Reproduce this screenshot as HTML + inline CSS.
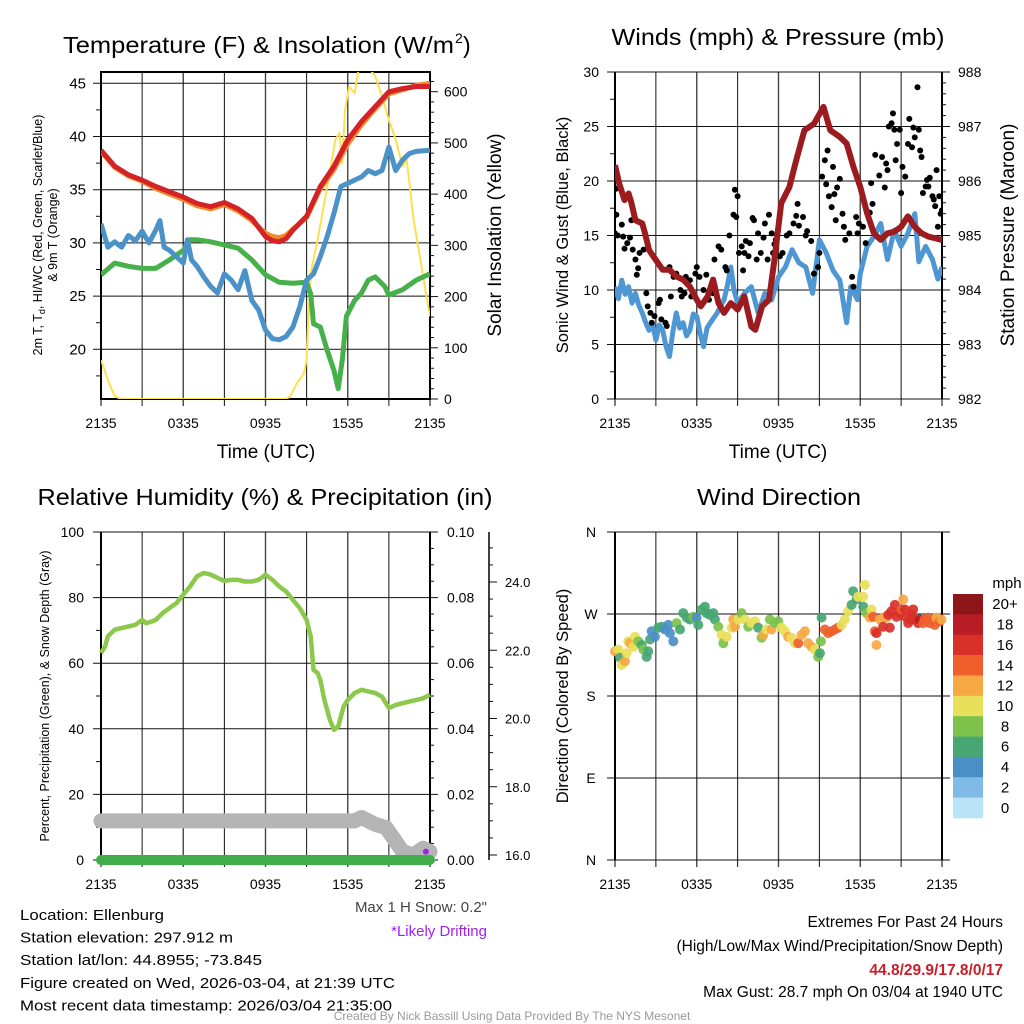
<!DOCTYPE html>
<html><head><meta charset="utf-8">
<style>
html,body{margin:0;padding:0;background:#fff;}
svg{display:block;font-family:"Liberation Sans",Arial,sans-serif;}
</style></head>
<body>
<svg id="c" width="1024" height="1024" viewBox="0 0 1024 1024" xmlns="http://www.w3.org/2000/svg">
<rect width="1024" height="1024" fill="#fff"/>
</svg>
<script>
// ---------- DATA ----------
const timeLabels = ["2135","0335","0935","1535","2135"];
// Panel 1: temperature (F) vs hour
const tempT = [0,1,2,3,4,5,6,7,8,9,10,11,12,12.5,13,13.5,14,15,16,17,18,19,20,21,22,23,24];
const tempRed = [38.7,37.2,36.4,35.9,35.3,34.8,34.3,33.7,33.4,33.8,33.2,32.3,30.6,30.2,30.1,30.4,31.2,32.5,35.3,37.2,39.7,41.4,42.8,44.2,44.5,44.7,44.7];
const tempOrange = [38.6,37.1,36.3,35.8,35.1,34.6,34.1,33.5,33.2,33.6,33.0,32.1,30.9,30.6,30.5,30.7,31.3,32.4,35.1,36.9,39.3,41.1,42.6,44.0,44.4,44.8,45.0];
const dewT = [0,0.5,1,1.5,2,2.5,3,3.5,4,4.3,4.6,5,5.5,6,6.3,6.6,7,7.5,8,8.5,9,9.5,10,10.5,11,11.5,12,12.5,13,13.5,14,14.5,15,15.5,16,16.5,17,17.5,18,18.5,19,19.5,20,20.5,21,21.5,22,22.5,23,24];
const dewBlue = [31.8,29.6,30.1,29.6,30.7,30.2,31.1,30.0,31.2,32.1,29.6,29.3,28.7,28.1,30.3,28.4,27.8,26.8,25.9,25.3,27.1,26.5,25.6,27.4,24.6,23.7,21.8,21.0,20.9,21.2,22.1,24.0,26.5,27.1,28.7,30.6,32.8,35.3,35.6,35.9,36.2,36.8,36.5,36.8,39.0,36.8,37.8,38.4,38.6,38.7];
const grnT = [0,1,2,3,4,5,6,6.5,7,8,9,10,11,12,13,14,15,15.3,15.5,16,16.5,17,17.3,17.6,17.9,18.5,19,19.5,20,20.7,21,22,23,24];
const grnTd = [27.0,28.1,27.8,27.6,27.6,28.4,29.3,30.3,30.3,30.1,29.8,29.5,28.4,27.0,26.3,26.2,26.3,25.2,22.4,22.1,19.9,18.0,16.3,19.0,23.1,24.6,25.3,26.5,26.8,25.9,25.1,25.6,26.5,27.1];
const solT = [0,0.5,1,1.5,13.5,13.8,14.3,14.8,15,15.1,15.3,15.8,16.5,17.1,17.4,17.6,17.8,18.1,18.5,18.8,19.5,20,20.5,21,21.5,22,22.3,22.8,23.3,23.7,24];
const solW = [76,37,5,0,0,5,31,50,76,141,246,311,415,506,520,460,565,610,597,645,648,630,591,545,506,454,467,350,272,207,161];
// Panel 2: winds / pressure
const presT = [0,0.3,0.7,1,1.2,1.5,2,2.2,2.5,3,3.5,4,4.5,5,5.5,6,6.3,6.8,7.2,7.6,8,8.5,9,9.5,10,10.3,10.8,11.3,11.7,12.2,12.8,13.3,13.9,14.6,15.3,15.8,16.5,17,17.5,18,18.5,19,19.5,20,20.5,21,21.5,22,22.5,23,24];
const presMb = [986.29,985.96,985.65,985.77,985.6,985.28,985.22,985.04,984.73,984.55,984.37,984.37,984.25,984.19,984.06,983.82,983.70,983.88,984.19,983.76,983.58,983.76,983.64,983.88,983.33,983.27,983.70,983.82,984.55,985.59,985.89,986.38,986.93,987.05,987.36,986.93,986.81,986.69,986.26,985.89,985.41,985.04,984.92,985.04,985.07,985.16,985.35,985.16,985.04,984.98,984.92];
const windT = [0,0.25,0.5,0.75,1,1.25,1.5,1.75,2,2.25,2.5,2.75,3,3.25,3.5,3.75,4,4.25,4.5,4.75,5,5.25,5.5,5.75,6,6.25,6.5,6.75,7,7.5,8,8.25,8.5,8.75,9,9.5,10,10.5,11,11.5,12,12.5,13,13.5,14,14.5,15,15.5,16,16.5,17,17.3,17.8,18,18.5,19,19.5,20,20.5,21,21.5,22,22.3,22.8,23.3,23.7,24];
const windMph = [10.3,9.2,10.9,9.6,10.3,8.8,9.7,8.6,7.9,7.0,6.3,6.9,5.4,6.8,6.3,4.8,3.9,6.2,7.9,6.5,7.0,5.8,6.3,7.8,7.6,6.0,4.8,6.5,7.0,7.9,9.1,10.4,12.1,9.9,8.8,9.7,10.3,7.9,9.7,9.1,11.2,12.1,13.7,12.5,12.1,9.7,14.6,13.4,11.8,10.9,7.0,10.3,9.1,11.5,14.0,14.9,16.1,12.8,15.5,14.0,15.2,17.0,12.6,14.0,12.8,11.0,12.1];
const gustT = [0,0.1,0.1,0.2,0.5,0.6,0.7,0.9,1.1,1.2,1.3,1.5,1.6,1.7,1.8,2.1,2.3,2.4,2.6,2.7,2.9,3.2,3.3,3.4,3.7,3.8,4.0,4.1,4.3,4.5,4.8,4.9,5.1,5.2,5.5,5.6,5.9,6.0,6.2,6.5,6.7,6.9,7.2,7.3,7.6,7.8,8.1,8.2,8.4,8.7,8.8,8.9,9.0,9.1,9.3,9.4,9.5,9.6,9.8,9.9,10.1,10.2,10.4,10.5,10.7,10.9,11.0,11.2,11.3,11.5,11.6,11.7,11.8,12.1,12.3,12.6,12.8,13.1,13.3,13.4,13.5,13.8,14.0,14.1,14.4,14.6,14.9,15.0,15.2,15.4,15.5,15.6,15.7,15.9,16.0,16.1,16.3,16.5,16.2,16.7,16.8,16.9,17.2,17.4,17.5,17.7,17.8,17.9,18.2,18.4,18.7,18.8,18.9,19.1,19.4,19.6,19.8,19.9,20.0,20.1,20.3,20.4,20.5,20.6,20.7,20.9,21.0,21.1,21.3,21.5,21.6,21.8,21.9,22.0,22.2,22.3,22.4,22.5,22.6,22.8,22.9,23.0,23.1,23.3,23.4,23.5,23.6,23.7,23.8,23.9,24.0];
const gustMph = [15.2,19.3,16.9,15.0,16.0,14.9,13.8,14.3,14.8,16.4,13.7,12.8,11.4,12.0,13.4,13.7,9.7,8.5,7.9,7.0,7.6,8.8,9.1,7.3,7.0,6.7,12.1,9.4,11.2,11.5,10.0,9.4,9.7,11.2,10.9,9.4,11.5,12.1,11.2,10.0,11.4,9.1,9.7,12.8,14.0,13.7,12.1,11.8,15.0,16.9,19.2,16.7,18.6,13.4,14.0,11.8,13.4,14.5,13.1,14.3,16.6,16.4,12.8,15.2,13.4,14.8,16.1,12.8,16.9,15.2,13.4,14.2,14.6,13.1,13.4,15.0,15.2,16.1,16.8,17.9,15.9,16.7,15.0,15.4,14.5,11.5,12.1,13.4,20.4,21.9,19.7,22.8,18.6,17.6,21.3,18.8,19.4,20.2,16.4,17.0,15.8,14.6,15.2,11.2,10.3,16.7,15.2,16.1,15.8,14.3,17.1,19.8,17.9,22.4,20.5,22.2,19.4,21.6,21.0,25.0,25.3,26.2,24.7,21.9,23.4,24.7,18.9,21.3,20.4,23.4,25.7,23.1,24.9,24.0,28.6,24.7,22.8,22.2,18.9,19.5,20.1,19.5,20.3,18.6,18.3,17.7,21.0,15.8,18.6,17.0,17.3];
// Panel 3: RH / snow
const rhT = [0,0.3,0.5,1,1.5,2,2.5,3,3.3,3.7,4,4.5,5,5.5,6,6.5,7,7.5,8,8.5,9,9.5,10,10.5,11,11.5,12,12.5,13,13.5,14,14.5,15,15.3,15.5,15.8,16,16.3,16.7,17,17.3,17.7,18,18.5,19,19.5,20,20.5,21,21.5,22,22.5,23,23.5,24];
const rhPct = [63.1,65.1,68.2,70.2,70.7,71.2,71.7,73.2,72.2,72.7,73.2,75.3,76.8,78.3,80.9,83.4,86.5,87.5,87.0,86.0,85.1,85.4,85.4,84.9,84.9,85.4,87.0,85.4,83.4,81.9,79.3,76.8,73.2,68.2,58.0,57.0,54.9,48.8,42.7,39.7,40.7,46.8,48.8,50.9,51.9,51.4,50.9,49.8,46.3,47.3,47.8,48.3,48.8,49.3,50.4];
const snowT = [0,18.5,19,20,20.8,21.5,22,22.8,23.5,24];
const snowIn = [17.0,17.0,17.1,16.9,16.8,16.4,16.1,16.0,16.2,16.1];
const precipT = [0,24];
const precipIn = [0,0];
// Panel 4: wind direction (deg) & speed (mph)
const dirT = [0,0.24,0.37,0.49,0.73,0.86,0.98,1.1,1.34,1.47,1.71,1.96,2.08,2.32,2.44,2.57,2.69,2.93,3.18,3.42,3.67,3.91,4.03,4.28,4.52,4.77,5.01,5.26,5.5,5.75,5.99,6.11,6.36,6.6,6.72,6.97,7.21,7.33,7.58,7.82,7.95,8.19,8.56,8.68,8.8,9.05,9.29,9.54,9.78,10.02,10.27,10.51,10.76,10.88,11.12,11.37,11.49,11.74,11.98,12.22,12.47,12.71,12.96,13.2,13.45,13.69,13.94,14.18,14.43,14.67,14.91,15.04,15.11,15.16,15.4,15.65,15.89,16.14,16.38,16.63,16.87,17.11,17.36,17.48,17.73,17.85,18.22,18.34,18.22,18.46,18.7,18.83,18.95,19.07,19.19,19.19,19.44,19.68,19.68,19.93,20.05,20.17,20.29,20.54,20.66,20.9,21.03,21.15,21.27,21.39,21.52,21.64,21.76,21.88,22.0,22.25,22.37,22.62,22.74,22.98,23.1,23.35,23.47,23.59,23.84,23.96];
const dirDeg = [229,231,222,214,218,227,240,238,234,245,240,236,231,223,229,242,251,245,255,256,253,258,249,240,260,253,271,266,264,267,266,258,275,278,271,269,271,264,256,247,238,245,255,264,256,264,271,264,256,260,262,255,244,247,253,264,253,260,262,255,251,245,244,238,238,247,251,238,234,231,223,227,240,266,253,249,251,253,255,258,264,273,280,295,286,289,289,302,278,271,266,275,267,251,249,236,264,266,256,266,269,255,273,280,267,271,275,286,275,266,260,264,269,275,264,260,264,260,264,266,260,264,258,266,262,264];
const dirSpd = [12,10,6,10,12,10,10,12,10,10,8,6,8,6,6,6,4,4,6,6,4,4,4,4,8,6,6,6,6,8,4,6,6,6,6,6,6,6,8,10,8,10,10,12,12,10,8,10,8,10,10,6,8,12,10,8,12,8,8,10,10,12,10,10,14,12,12,12,12,10,8,6,8,6,14,14,14,14,14,10,10,10,6,6,6,10,10,10,6,8,12,10,14,14,16,12,12,12,16,12,16,16,16,16,16,16,14,12,16,16,16,16,16,16,16,16,18,14,14,14,14,14,14,12,14,12,12];
const cbLabels = ["20+","18","16","14","12","10","8","6","4","2","0"];
const cbColors = ["#8e1518","#b81c25","#d9302a","#ee5f2b","#f6a844","#e8e05a","#7cc24b","#48a672","#4a8fc6","#7fbbe6","#b9e4f8"];

// ---------- HELPERS ----------
const svg = document.getElementById('c');
const NS = 'http://www.w3.org/2000/svg';
function mk(tag, attrs, parent){ const e=document.createElementNS(NS,tag); for(const k in attrs) e.setAttribute(k,attrs[k]); (parent||svg).appendChild(e); return e; }
function txt(s, x, y, size, anchor, extra, parent){
  const e = mk('text', Object.assign({x:x,y:y,'font-size':size,'text-anchor':anchor||'start',fill:'#000'}, extra||{}), parent);
  e.textContent = s; return e;
}
function lin(x0,x1,v0,v1){ return v => x0 + (v - v0) * (x1 - x0) / (v1 - v0); }
function pathD(xs, ys, fx, fy){ return xs.map((t,i)=>(i?'L':'M')+fx(t).toFixed(1)+','+fy(ys[i]).toFixed(1)).join(''); }

function frame(g, x0, x1, y0, y1){
  const fx = lin(x0, x1, 0, 24);
  for(let i=0;i<=8;i++){
    const x = fx(i*3);
    const l = mk('line',{x1:x,x2:x,y1:y0,y2:y1+7,stroke:i%2?'#111':'#444','stroke-width':i%2?1:1.4},g);
    
    
  }
  timeLabels.forEach((s,i)=>{
    const t = txt(s, fx(i*6), y1+29, 14, 'middle', {}, g);
    
    
  });
  return fx;
}

// ---------- PANEL 1 ----------
(function(){
  const g = mk('g',{});
  
  
  const x0=101,x1=430,y0=72,y1=399;
  const fx = frame(g,x0,x1,y0,y1);
  const fy = lin(83.3,349.3,45,20);
  const fs = lin(399,91.7,0,600);
  for(let v=20; v<=45; v+=5){
    const l=mk('line',{x1:x0-8,x2:x1,y1:fy(v),y2:fy(v),stroke:'#111','stroke-width':1},g);
     
    const t=txt(String(v), x0-15, fy(v)+5, 15, 'end', {}, g);
     
  }
  for(let v=17.5; v<=45; v+=5){ mk('line',{x1:x0-5,x2:x0,y1:fy(v),y2:fy(v),stroke:'#111'},g); }
  for(let v=0; v<=620; v+=20){
    const major = v%100===0;
    mk('line',{x1:x1,x2:x1+(major?8:4),y1:fs(v),y2:fs(v),stroke:'#111'},g);
    if(major){ const t=txt(String(v), x1+14, fs(v)+5, 14, 'start', {}, g);
        }
  }
  mk('rect',{x:x0,y:y0,width:x1-x0,height:y1-y0,fill:'none',stroke:'#000','stroke-width':2},g);
  const clip = mk('clipPath',{id:'cp1'},g); mk('rect',{x:x0,y:y0,width:x1-x0,height:y1-y0},clip);
  const cg = mk('g',{'clip-path':'url(#cp1)'},g);
  const sp = mk('path',{d:pathD(solT,solW,fx,fs),fill:'none',stroke:'#fde050','stroke-width':2,'stroke-linejoin':'round'},cg);
   
  const gp = mk('path',{d:pathD(grnT,grnTd,fx,fy),fill:'none',stroke:'#46b04a','stroke-width':5,'stroke-linejoin':'round'},cg);
   
  const bp = mk('path',{d:pathD(dewT,dewBlue,fx,fy),fill:'none',stroke:'#4b92c9','stroke-width':5,'stroke-linejoin':'round'},cg);
   
  const op = mk('path',{d:pathD(tempT,tempOrange,fx,fy),fill:'none',stroke:'#f08a2a','stroke-width':5,'stroke-linejoin':'round'},cg);
   
  const rp = mk('path',{d:pathD(tempT,tempRed,fx,fy),fill:'none',stroke:'#d42326','stroke-width':5,'stroke-linejoin':'round'},cg);
   
  const t1=txt('Temperature (F) & Insolation (W/m', 63, 53, 23, 'start', {textLength:391,lengthAdjust:'spacingAndGlyphs'}, g);
   
  txt('2',455,43,14,'start',{},g);
  txt(')',463,53,23,'start',{},g);
  const xl=txt('Time (UTC)', 266, 458, 19, 'middle', {}, g);
   
  const yl=mk('text',{transform:'translate(42,235) rotate(-90)','font-size':12.5,'text-anchor':'middle'},g);
  yl.innerHTML='2m T, T<tspan font-size="9" dy="3">d</tspan><tspan dy="-3">, HI/WC (Red, Green, Scarlet/Blue)</tspan>';
   
  const yl2=mk('text',{transform:'translate(57,235) rotate(-90)','font-size':12.5,'text-anchor':'middle'},g);
  yl2.textContent='& 9m T (Orange)';
  const yr=mk('text',{transform:'translate(501,235) rotate(-90)','font-size':19,'text-anchor':'middle'},g);
  yr.textContent='Solar Insolation (Yellow)';
   
})();

// ---------- PANEL 2 ----------
(function(){
  const g = mk('g',{});
  
  
  const x0=615,x1=942,y0=72,y1=399;
  const fx = frame(g,x0,x1,y0,y1);
  const fy = lin(399,72,0,30);
  const fp = lin(399,72,982,988);
  for(let v=0; v<=30; v+=5){
    mk('line',{x1:x0-8,x2:x1+8,y1:fy(v),y2:fy(v),stroke:'#111','stroke-width':1},g);
    const t=txt(String(v), x0-16, fy(v)+5, 14, 'end', {}, g);
     
  }
  for(let v=2.5; v<30; v+=5){ mk('line',{x1:x0-5,x2:x0,y1:fy(v),y2:fy(v),stroke:'#111'},g); }
  for(let v=982; v<=988.001; v+=0.2){
    const major = Math.abs(v-Math.round(v))<0.01;
    mk('line',{x1:x1,x2:x1+(major?8:4),y1:fp(v),y2:fp(v),stroke:'#111'},g);
    if(major){ const t=txt(String(Math.round(v)), x1+16, fp(v)+5, 14, 'start', {}, g);
        }
  }
  mk('line',{x1:x0,x2:x0,y1:y0,y2:y1,stroke:'#000','stroke-width':2},g);
  mk('line',{x1:x1,x2:x1,y1:y0,y2:y1,stroke:'#000','stroke-width':2},g);
  const clip = mk('clipPath',{id:'cp2'},g); mk('rect',{x:x0,y:y0,width:x1-x0,height:y1-y0},clip);
  const cg = mk('g',{'clip-path':'url(#cp2)'},g);
  const wp = mk('path',{d:pathD(windT,windMph,fx,fy),fill:'none',stroke:'#4f97d2','stroke-width':5,'stroke-linejoin':'round'},cg);
   
  gustT.forEach((t,i)=>{
    const c = mk('circle',{cx:fx(t),cy:fy(gustMph[i]),r:3,fill:'#000'},cg);
    
    
  });
  const pp = mk('path',{d:pathD(presT,presMb,fx,fp),fill:'none',stroke:'#9b1b1e','stroke-width':6,'stroke-linejoin':'round'},cg);
   
  const t1=txt('Winds (mph) & Pressure (mb)', 778, 45, 23, 'middle', {textLength:333,lengthAdjust:'spacingAndGlyphs'}, g);
   
  const xl=txt('Time (UTC)', 778, 458, 19, 'middle', {}, g);
   
  const yl=mk('text',{transform:'translate(568,235) rotate(-90)','font-size':16.5,'text-anchor':'middle'},g);
  yl.textContent='Sonic Wind & Gust (Blue, Black)';
   
  const yr=mk('text',{transform:'translate(1014,235) rotate(-90)','font-size':19,'text-anchor':'middle'},g);
  yr.textContent='Station Pressure (Maroon)';
   
})();

// ---------- PANEL 3 ----------
(function(){
  const g = mk('g',{});
  
  
  const x0=101,x1=430,y0=532,y1=860;
  const fx = frame(g,x0,x1,y0,y1);
  const fy = lin(860,532,0,100);
  const fpr = lin(860,532,0,0.1);
  const fsn = lin(855,582,16,24);
  for(let v=0; v<=100; v+=20){
    mk('line',{x1:x0-8,x2:x1+8,y1:fy(v),y2:fy(v),stroke:'#111','stroke-width':1},g);
    const t=txt(String(v), x0-17, fy(v)+5, 14, 'end', {}, g);
     
    const t2=txt((v/1000).toFixed(2), x1+17, fy(v)+5, 14, 'start', {}, g);
     
  }
  for(let v=10; v<100; v+=20){ mk('line',{x1:x0-5,x2:x0,y1:fy(v),y2:fy(v),stroke:'#111'},g); }
  for(let v=5; v<100; v+=5){ if(v%20) mk('line',{x1:x1,x2:x1+4,y1:fy(v),y2:fy(v),stroke:'#111'},g); }
  mk('line',{x1:489,x2:489,y1:532,y2:860,stroke:'#000','stroke-width':1.5},g);
  for(let v=15.5; v<=25; v+=0.5){
    if(fsn(v)<533||fsn(v)>860) continue;
    const major = v%2===0;
    mk('line',{x1:489,x2:489+(major?8:4),y1:fsn(v),y2:fsn(v),stroke:'#111'},g);
    if(major){ const t=txt(v.toFixed(1), 505, fsn(v)+5, 13, 'start', {}, g);
        }
  }
  mk('line',{x1:x0,x2:x0,y1:y0,y2:y1,stroke:'#000','stroke-width':2},g);
  mk('line',{x1:x1,x2:x1,y1:y0,y2:y1,stroke:'#000','stroke-width':2},g);
  const sp = mk('path',{d:pathD(snowT,snowIn,fx,fsn),fill:'none',stroke:'#b4b4b4','stroke-width':15,'stroke-linecap':'round','stroke-linejoin':'round'},g);
   
  const pr = mk('path',{d:pathD(precipT,precipIn,fx,fpr),fill:'none',stroke:'#3fae49','stroke-width':10,'stroke-linecap':'round'},g);
   
  const rp = mk('path',{d:pathD(rhT,rhPct,fx,fy),fill:'none',stroke:'#8cc84b','stroke-width':4.5,'stroke-linejoin':'round'},g);
   
  const dr = mk('circle',{cx:fx(23.7),cy:fsn(16.1),r:3,fill:'#a020f0'},g);
   
  const t1=txt('Relative Humidity (%) & Precipitation (in)', 265, 505, 23, 'middle', {textLength:455,lengthAdjust:'spacingAndGlyphs'}, g);
   
  const yl=mk('text',{transform:'translate(49,696) rotate(-90)','font-size':12.5,'text-anchor':'middle'},g);
  yl.textContent='Percent, Precipitation (Green), & Snow Depth (Gray)';
   
})();

// ---------- PANEL 4 ----------
(function(){
  const g = mk('g',{});
  
  
  const x0=615,x1=942,y0=532,y1=860;
  const fx = frame(g,x0,x1,y0,y1);
  const fy = lin(860,532,0,360);
  ['N','E','S','W','N'].forEach((s,i)=>{
    const v=i*90;
    mk('line',{x1:x0-8,x2:x1+8,y1:fy(v),y2:fy(v),stroke:'#111','stroke-width':1},g);
    const t=txt(s, 591, fy(v)+5, 14, 'middle', {}, g);
     
  });
  mk('line',{x1:x0,x2:x0,y1:y0,y2:y1,stroke:'#000','stroke-width':2},g);
  mk('line',{x1:x1,x2:x1,y1:y0,y2:y1,stroke:'#000','stroke-width':2},g);
  dirT.forEach((t,i)=>{
    const idx = 10 - Math.min(10, Math.round(dirSpd[i]/2));
    const c = mk('circle',{cx:fx(t),cy:fy(dirDeg[i]),r:5,fill:cbColors[idx],'fill-opacity':0.92},g);
    
    
  });
  const cb = mk('g',{},g);
  
  
  const bh = (818-594)/11;
  cbColors.forEach((c,i)=>{
    const r = mk('rect',{x:953,y:594+i*bh,width:30,height:bh+0.3,fill:c},cb);
    
    
    const t = txt(cbLabels[i], 1005, 594+i*bh+bh/2+5, 15, 'middle', {}, cb);
    
    
  });
  txt('mph', 1007, 588, 15, 'middle', {}, cb);
  const t1=txt('Wind Direction', 779, 505, 23, 'middle', {textLength:164,lengthAdjust:'spacingAndGlyphs'}, g);
   
  const yl=mk('text',{transform:'translate(568,696) rotate(-90)','font-size':16.5,'text-anchor':'middle'},g);
  yl.textContent='Direction (Colored By Speed)';
   
})();

// ---------- FOOTER TEXT ----------
(function(){
  const g = mk('g',{});
  
  
  const lines = [["Location: Ellenburg",144],["Station elevation: 297.912 m",213],["Station lat/lon: 44.8955; -73.845",242],["Figure created on Wed, 2026-03-04, at 21:39 UTC",375],["Most recent data timestamp: 2026/03/04 21:35:00",372]];
  lines.forEach((l,i)=>{ txt(l[0], 20, 920+i*22.6, 15, 'start', {textLength:l[1],lengthAdjust:'spacingAndGlyphs'}, g); });
  const s1 = txt('Max 1 H Snow: 0.2"', 487, 912, 15, 'end', {fill:'#444'}, g);
   
  const s2 = txt('*Likely Drifting', 487, 936, 15, 'end', {fill:'#a020f0'}, g);
   
  const e = mk('g',{});
  
  
  txt('Extremes For Past 24 Hours', 1003, 927, 15.5, 'end', {}, e);
  txt('(High/Low/Max Wind/Precipitation/Snow Depth)', 1003, 951, 15.5, 'end', {}, e);
  txt('44.8/29.9/17.8/0/17', 1003, 975, 15.5, 'end', {fill:'#c8202a','font-weight':'bold'}, e);
  txt('Max Gust: 28.7 mph On 03/04 at 1940 UTC', 1003, 997, 15.5, 'end', {}, e);
  const f = txt('Created By Nick Bassill Using Data Provided By The NYS Mesonet', 512, 1020, 12, 'middle', {fill:'#999'});
   
})();
</script>
</body></html>
